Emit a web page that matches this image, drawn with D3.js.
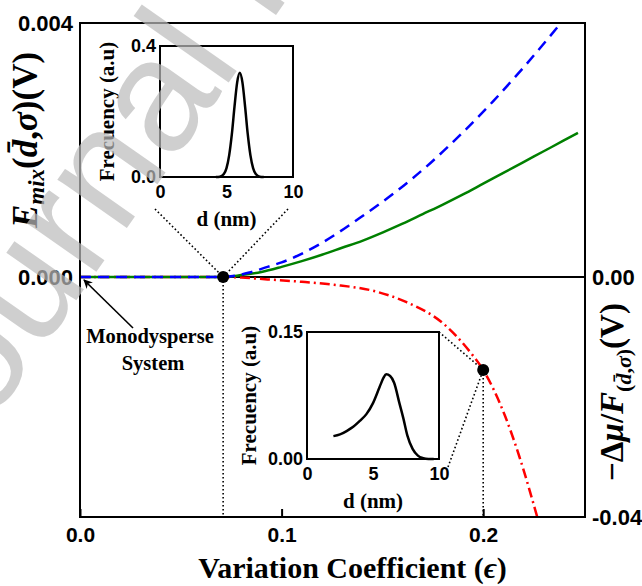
<!DOCTYPE html>
<html>
<head>
<meta charset="utf-8">
<script src="https://cdn.jsdelivr.net/npm/d3@7"></script>
<style>
  body { margin: 0; background: #fff; }
  svg { display: block; }
  .tick text { font-family: "Liberation Sans", Arial, sans-serif; font-weight: bold; }
  .serif { font-family: "Liberation Serif", "Times New Roman", serif; font-weight: bold; }
</style>
</head>
<body>
<div id="chart"></div>
<script>
// main panel: mixing energy (left axis) vs variation coefficient
const epsBlue = [0, 0.04, 0.071, 0.077, 0.084, 0.093, 0.1, 0.119, 0.141, 0.157, 0.174, 0.19, 0.205, 0.22, 0.237];
const eBlue = [0, 0, 0, 0.00002, 0.00007, 0.00016, 0.00023, 0.00052, 0.00098, 0.00135, 0.0018, 0.00228, 0.00277, 0.0033, 0.00394];

const epsGreen = [0, 0.04, 0.071, 0.08, 0.09, 0.1, 0.11, 0.12, 0.13, 0.14, 0.15, 0.16, 0.17, 0.18, 0.19, 0.2, 0.21, 0.22, 0.23, 0.24, 0.247];
const eGreen = [0, 0, 0, 0.00003, 0.00008, 0.00016, 0.00025, 0.00035, 0.00046, 0.00057, 0.0007, 0.00084, 0.00099, 0.00114, 0.0013, 0.00147, 0.00164, 0.00181, 0.00198, 0.00215, 0.00227];

// chemical potential term (right axis)
const epsRed = [0, 0.04, 0.071, 0.08, 0.093, 0.11, 0.126, 0.1454, 0.162, 0.18, 0.1935, 0.2, 0.211, 0.218, 0.2268];
const muRed = [0, 0, 0, -0.0001, -0.0004, -0.0008, -0.0013, -0.0023, -0.0042, -0.0077, -0.0125, -0.0155, -0.0233, -0.03, -0.04];

// highlighted points
const epsMarked = [0.071, 0.2];

// inset distributions
const dNarrow = [4.2, 4.5, 4.8, 5.0, 5.2, 5.4, 5.6, 5.8, 6.0, 6.2, 6.4, 6.6, 6.8, 7.0, 7.2, 7.5, 7.8];
const fNarrow = [0, 0.001, 0.009, 0.027, 0.066, 0.13, 0.214, 0.288, 0.318, 0.288, 0.214, 0.13, 0.066, 0.027, 0.009, 0.001, 0];

const dWide = [2.0, 2.5, 3.0, 3.5, 4.0, 4.5, 5.0, 5.5, 5.8, 6.0, 6.3, 6.6, 7.0, 7.3, 7.6, 8.0, 8.4, 8.8, 9.2, 9.6];
const fWide = [0.027, 0.029, 0.033, 0.038, 0.045, 0.053, 0.066, 0.085, 0.096, 0.1, 0.098, 0.09, 0.066, 0.048, 0.028, 0.012, 0.004, 0.001, 0, 0];

// tick labels
const xTicks = [0, 0.1, 0.2];
const yLeftTicks = [0, 0.004];
const yRightTicks = [-0.04, 0];
const inX = [0, 5, 10];
const in1Y = [0, 0.4];
const in2Y = [0, 0.15];

const width = 642;
const height = 586;
const margin = {top: 23, right: 57, bottom: 69, left: 80};
const x0 = margin.left, x1 = width - margin.right;
const y0 = margin.top, y1 = height - margin.bottom;

const svg = d3.select('#chart')
    .append('svg')
        .attr('width', width)
        .attr('height', height);

// SCALES
const x = d3.scaleLinear().domain([0, 0.25]).range([x0, x1 - 1]);
// zero of both y axes sits on the same line
const zeroFrac = 254 / 494;
const yL = d3.scaleLinear()
    .domain([-0.004 * (1 - zeroFrac) / zeroFrac, 0.004])
    .range([y1, y0]);
const yR = d3.scaleLinear()
    .domain([-0.04, 0.04 * zeroFrac / (1 - zeroFrac)])
    .range([y1, y0]);

svg.append('defs').append('clipPath')
        .attr('id', 'plot-clip')
    .append('rect')
        .attr('x', x0).attr('y', y0)
        .attr('width', x1 - x0).attr('height', y1 - y0);

svg.select('defs').append('marker')
        .attr('id', 'arrow')
        .attr('viewBox', '0 0 10 10')
        .attr('refX', 9).attr('refY', 5)
        .attr('markerWidth', 9).attr('markerHeight', 9)
        .attr('markerUnits', 'userSpaceOnUse')
        .attr('orient', 'auto-start-reverse')
    .append('path')
        .attr('d', 'M0,0 L10,5 L0,10 L3,5 Z')
        .attr('fill', '#000');

// zero line
svg.append('line')
    .attr('x1', x0).attr('x2', x1)
    .attr('y1', yL(0)).attr('y2', yL(0))
    .attr('stroke', '#000')
    .attr('stroke-width', 2);

// DRAWING TOOLS
const lineL = (xs) => d3.line()
    .curve(d3.curveMonotoneX)
    .x((d, i) => x(xs[i]))
    .y(d => yL(d));
const lineR = d3.line()
    .curve(d3.curveMonotoneX)
    .x((d, i) => x(epsRed[i]))
    .y(d => yR(d));

const curves = svg.append('g').attr('clip-path', 'url(#plot-clip)');

curves.append('path')
    .datum(muRed)
        .attr('fill', 'none')
        .attr('stroke', '#ff0000')
        .attr('stroke-width', 2.5)
        .attr('stroke-dasharray', '10 4 2 4')
        .attr('d', lineR);

curves.append('path')
    .datum(eGreen)
        .attr('fill', 'none')
        .attr('stroke', '#008000')
        .attr('stroke-width', 2.5)
        .attr('d', lineL(epsGreen));

curves.append('path')
    .datum(eBlue)
        .attr('fill', 'none')
        .attr('stroke', '#0000ff')
        .attr('stroke-width', 2.5)
        .attr('stroke-dasharray', '11 7')
        .attr('d', lineL(epsBlue));

// frame
svg.append('rect')
    .attr('x', x0).attr('y', y0)
    .attr('width', x1 - x0).attr('height', y1 - y0)
    .attr('fill', 'none')
    .attr('stroke', '#000')
    .attr('stroke-width', 2);

// AXES
svg.append('g')
    .attr('transform', `translate(0,${y1})`)
    .call(d3.axisBottom(x)
        .tickValues(xTicks)
        .tickFormat(d3.format('.1f'))
        .tickSizeOuter(0)
        .tickSizeInner(-8)
        .tickPadding(10))
    .call(g => g.select('.domain').remove())
    .call(g => g.selectAll('.tick line').attr('stroke-width', 2))
    .call(g => g.selectAll('.tick text').style('font-size', '21px'));

svg.append('g')
    .attr('transform', `translate(${x0},0)`)
    .call(d3.axisLeft(yL)
        .tickValues(yLeftTicks)
        .tickFormat(d3.format('.3f'))
        .tickSize(0)
        .tickPadding(7))
    .call(g => g.select('.domain').remove())
    .call(g => g.selectAll('.tick text').style('font-size', '22px'));

svg.append('g')
    .attr('transform', `translate(${x1},0)`)
    .call(d3.axisRight(yR)
        .tickValues(yRightTicks)
        .tickFormat(d => d.toFixed(2))
        .tickSize(0)
        .tickPadding(7))
    .call(g => g.select('.domain').remove())
    .call(g => g.selectAll('.tick text').style('font-size', '22px'));

// axis titles
const xTitle = svg.append('text')
    .attr('class', 'serif')
    .attr('x', (x0 + x1) / 2 + 20)
    .attr('y', 578)
    .attr('text-anchor', 'middle')
    .style('font-size', '30px');
xTitle.append('tspan').text('Variation Coefficient (');
xTitle.append('tspan').attr('font-style', 'italic').text('ϵ');
xTitle.append('tspan').text(')');

const yTitle = svg.append('text')
    .attr('class', 'serif')
    .attr('transform', 'translate(37,140) rotate(-90)')
    .attr('text-anchor', 'middle')
    .style('font-size', '35px');
yTitle.append('tspan').attr('font-style', 'italic').text('E');
yTitle.append('tspan').attr('font-style', 'italic').style('font-size', '23px').attr('dy', 7).text('mix');
yTitle.append('tspan').attr('dy', -7).text('(');
yTitle.append('tspan').attr('font-style', 'italic').text('d\u0304');
yTitle.append('tspan').text(',');
yTitle.append('tspan').attr('font-style', 'italic').text('σ');
yTitle.append('tspan').text(')(V)');

const rTitle = svg.append('text')
    .attr('class', 'serif')
    .attr('transform', 'translate(623,392) rotate(-90)')
    .attr('text-anchor', 'middle')
    .style('font-size', '33px');
rTitle.append('tspan').text('−Δ');
rTitle.append('tspan').attr('font-style', 'italic').text('μ');
rTitle.append('tspan').text('/');
rTitle.append('tspan').attr('font-style', 'italic').text('F');
rTitle.append('tspan').style('font-size', '22px').attr('dy', 8).text('(');
rTitle.append('tspan').style('font-size', '22px').attr('font-style', 'italic').text('d\u0304');
rTitle.append('tspan').style('font-size', '22px').text(',');
rTitle.append('tspan').style('font-size', '22px').attr('font-style', 'italic').text('σ');
rTitle.append('tspan').style('font-size', '22px').text(')');
rTitle.append('tspan').attr('dy', -8).text('(V)');

// marked points on the curves
const p1 = [x(epsMarked[0]), yL(0)];
const p2 = [x(epsMarked[1]), yR(muRed[epsRed.indexOf(epsMarked[1])])];

// INSETS
function inset(xr, yr, yDom, ds, fs, yFmt, yLabelX) {
    const sx = d3.scaleLinear().domain([0, 10]).range(xr);
    const sy = d3.scaleLinear().domain(yDom).range(yr);
    const g = svg.append('g');
    g.append('rect')
        .attr('x', xr[0]).attr('y', yr[1])
        .attr('width', xr[1] - xr[0]).attr('height', yr[0] - yr[1])
        .attr('fill', '#fff')
        .attr('stroke', '#000')
        .attr('stroke-width', 2);
    g.append('path')
        .datum(fs)
            .attr('fill', 'none')
            .attr('stroke', '#000')
            .attr('stroke-width', 2.5)
            .attr('d', d3.line()
                .curve(d3.curveMonotoneX)
                .x((d, i) => sx(ds[i]))
                .y(d => sy(d)));
    g.append('g')
        .attr('transform', `translate(0,${yr[0]})`)
        .call(d3.axisBottom(sx).tickValues(inX).tickSize(0).tickPadding(8))
        .call(a => a.select('.domain').remove())
        .call(a => a.selectAll('.tick text').style('font-size', '18px'));
    g.append('g')
        .attr('transform', `translate(${xr[0]},0)`)
        .call(d3.axisLeft(sy).tickValues(yDom).tickFormat(d3.format(yFmt)).tickSize(0).tickPadding(4))
        .call(a => a.select('.domain').remove())
        .call(a => a.selectAll('.tick text').style('font-size', '18px'));
    g.append('text')
        .attr('class', 'serif')
        .attr('x', (xr[0] + xr[1]) / 2)
        .attr('y', yr[0] + 49)
        .attr('text-anchor', 'middle')
        .style('font-size', '21px')
        .text('d (nm)');
    g.append('text')
        .attr('class', 'serif')
        .attr('transform', `translate(${yLabelX},${(yr[0] + yr[1]) / 2}) rotate(-90)`)
        .attr('text-anchor', 'middle')
        .style('font-size', '21px')
        .text('Frecuency (a.u)');
    return {sx, sy};
}

const in1 = inset([160, 293], [177, 46], in1Y, dNarrow, fNarrow, '.1f', 114);
const in2 = inset([307, 439], [459, 332], in2Y, dWide, fWide, '.2f', 256);

// dotted guides
const dotted = svg.append('g')
    .attr('stroke', '#000')
    .attr('stroke-width', 1.6)
    .attr('stroke-dasharray', '1.6 2.4')
    .attr('fill', 'none');
const guides = [
    [[in1.sx(0) - 5, in1.sy(0) + 32], p1],
    [[in1.sx(10) - 5, in1.sy(0) + 32], p1],
    [p1, [p1[0], y1]],
    [[in2.sx(10), in2.sy(0.15)], p2],
    [[in2.sx(10) + 9, in2.sy(0) + 8], p2],
    [p2, [p2[0], y1]]
];
dotted.selectAll('line')
    .data(guides)
    .join('line')
        .attr('x1', d => d[0][0]).attr('y1', d => d[0][1])
        .attr('x2', d => d[1][0]).attr('y2', d => d[1][1]);

svg.selectAll('circle.mark')
    .data([p1, p2])
    .join('circle')
        .attr('class', 'mark')
        .attr('cx', d => d[0])
        .attr('cy', d => d[1])
        .attr('r', 6)
        .attr('fill', '#000');

// monodisperse annotation
svg.append('line')
    .attr('x1', 133).attr('y1', 328)
    .attr('x2', x(0) + 4).attr('y2', yL(0) + 3)
    .attr('stroke', '#000')
    .attr('stroke-width', 1.6)
    .attr('marker-end', 'url(#arrow)');
svg.append('text')
    .attr('class', 'serif')
    .attr('x', 150).attr('y', 343)
    .attr('text-anchor', 'middle')
    .style('font-size', '20.5px')
    .text('Monodysperse');
svg.append('text')
    .attr('class', 'serif')
    .attr('x', 153).attr('y', 370)
    .attr('text-anchor', 'middle')
    .style('font-size', '20.5px')
    .text('System');

// watermark
svg.append('text')
    .attr('transform', 'translate(-58,492) rotate(-55)')
    .style('font-family', '"Liberation Sans", Arial, sans-serif')
    .style('font-size', '160px')
    .attr('fill', '#bcbcbc')
    .attr('opacity', 0.7)
    .text('Journal Pre-proof');
</script>
</body>
</html>
